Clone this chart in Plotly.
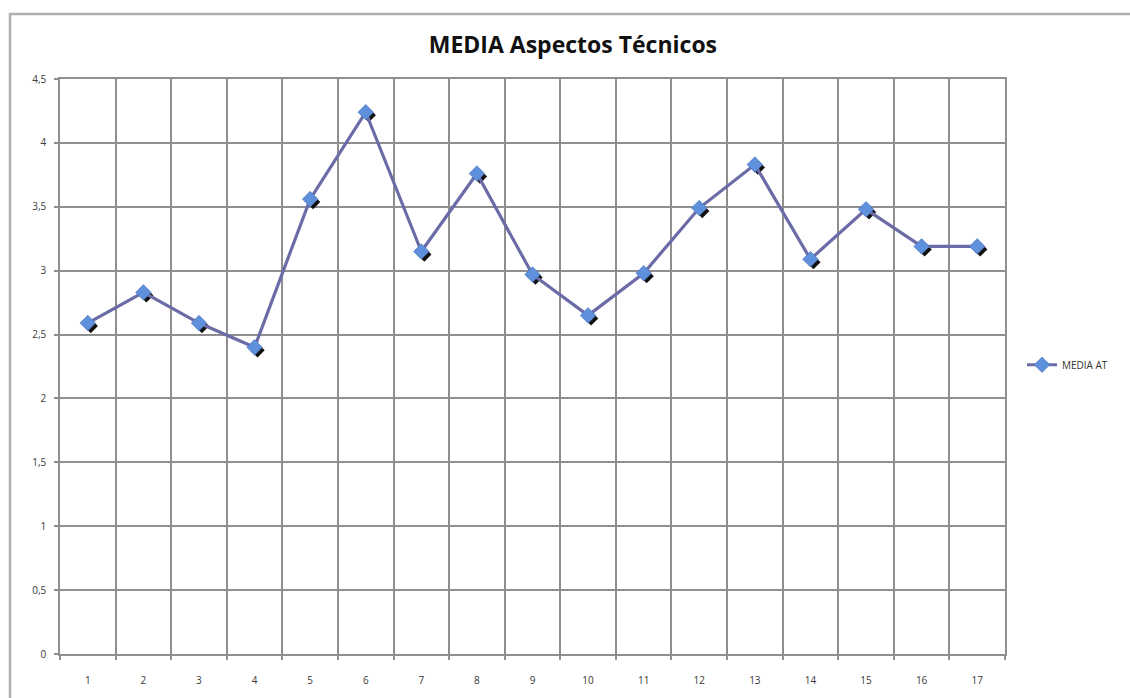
import plotly.graph_objects as go

# Mean score per item for "Aspectos Técnicos"
items = list(range(1, 18))
media_at = [2.59, 2.83, 2.59, 2.40, 3.56, 4.24, 3.15, 3.76, 2.97,
            2.65, 2.98, 3.49, 3.83, 3.09, 3.48, 3.19, 3.19]
y_ticks = [0, 0.5, 1, 1.5, 2, 2.5, 3, 3.5, 4, 4.5]
boundaries = [i - 0.5 for i in items] + [items[-1] + 0.5]

X_RANGE = [0.5, 17.5]
Y_RANGE = [0, 4.5]

# plot area geometry in pixels, used to offset the marker shadow
PLOT_W, PLOT_H = 945, 575
SHADOW_PX = 3
dx = SHADOW_PX * (X_RANGE[1] - X_RANGE[0]) / PLOT_W
dy = SHADOW_PX * (Y_RANGE[1] - Y_RANGE[0]) / PLOT_H

GRID = "#8f8f8f"
LINE = "#6b6ba8"
MARKER = "#5f90dc"
TICKFONT = dict(family="Open Sans, Liberation Sans, sans-serif", size=10, color="#3a3a3a")

fig = go.Figure()

# dark drop shadow under each marker (base axes, shifted range)
fig.add_trace(go.Scatter(
    x=items, y=media_at, mode="markers", xaxis="x", yaxis="y",
    marker=dict(symbol="diamond", size=11, color="#111111"),
    showlegend=False, hoverinfo="skip",
))

# main series
fig.add_trace(go.Scatter(
    x=items, y=media_at, mode="lines+markers", name="MEDIA AT",
    xaxis="x2", yaxis="y2",
    line=dict(color=LINE, width=3.2),
    marker=dict(symbol="diamond", size=12, color=MARKER,
                line=dict(color="#4b74b8", width=0.6)),
))

fig.update_layout(
    width=1130, height=698,
    margin=dict(l=60, r=125, t=79, b=44),
    paper_bgcolor="white", plot_bgcolor="white",
    separators=",.",
    title=dict(text="<b>MEDIA Aspectos Técnicos</b>", x=0.507, xref="container",
               xanchor="center", y=0.935, yref="container", yanchor="middle",
               font=dict(family="Open Sans, Liberation Sans, sans-serif", size=23, color="#111111")),
    xaxis=dict(range=[X_RANGE[0] - dx, X_RANGE[1] - dx], visible=False, fixedrange=True),
    yaxis=dict(range=[Y_RANGE[0] + dy, Y_RANGE[1] + dy], visible=False, fixedrange=True),
    xaxis2=dict(
        range=X_RANGE, overlaying="x", anchor="y2",
        tickmode="array", tickvals=items, ticktext=[str(i) for i in items],
        showgrid=False, ticks="", ticklabelstandoff=16, tickfont=TICKFONT,
        minor=dict(tickmode="array", tickvals=boundaries, showgrid=True,
                   gridcolor=GRID, gridwidth=1.5, ticks="outside", ticklen=4,
                   tickcolor=GRID, tickwidth=1.5),
        showline=True, linecolor=GRID, linewidth=1.5, mirror=True,
        zeroline=False,
    ),
    yaxis2=dict(
        range=Y_RANGE, overlaying="y", anchor="x2",
        tickmode="array", tickvals=y_ticks,
        showgrid=True, gridcolor=GRID, gridwidth=1.5,
        ticks="outside", ticklen=4, tickcolor=GRID, tickwidth=1.5,
        tickfont=TICKFONT, ticklabelstandoff=6,
        showline=True, linecolor=GRID, linewidth=1.5, mirror=True,
        zeroline=False,
    ),
    legend=dict(x=1.018, xanchor="left", y=0.503, yanchor="middle",
                font=dict(family="Open Sans, Liberation Sans, sans-serif", size=10, color="#333333"),
                bgcolor="rgba(0,0,0,0)", itemwidth=30),
    shapes=[dict(type="rect", xref="paper", yref="paper",
                 x0=(10 - 60) / PLOT_W, x1=(1140 - 60) / PLOT_W,
                 y0=-(710 - 654) / PLOT_H, y1=(654 - 14) / PLOT_H,
                 line=dict(color="#b0b0b0", width=2.5), layer="below")],
)

fig.write_html("out.html")
